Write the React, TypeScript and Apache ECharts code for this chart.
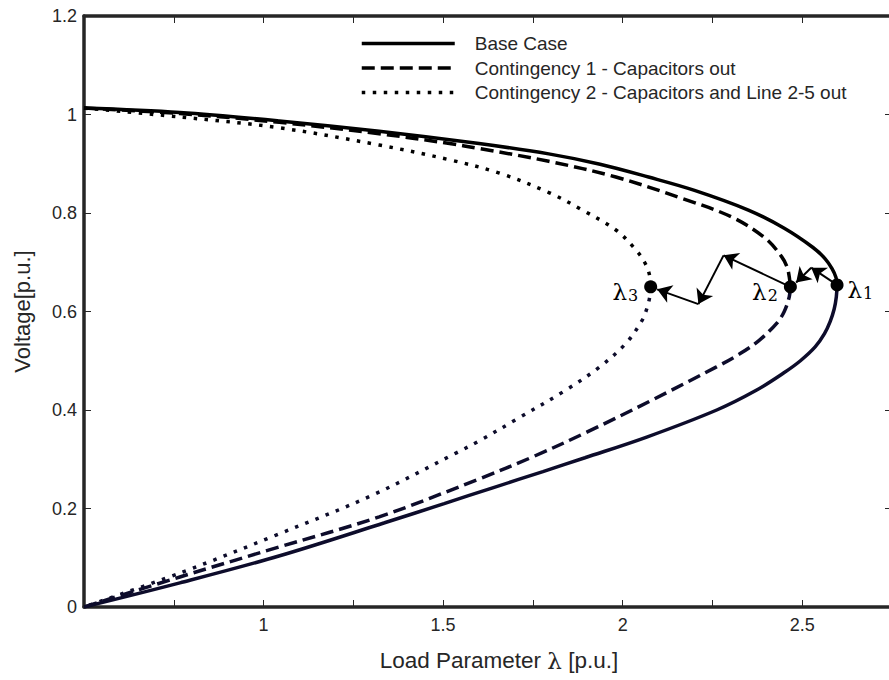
import React, { useEffect, useRef } from "react";
import * as echarts from "echarts";

// Load parameter λ [p.u.] vs Voltage [p.u.]
const baseUpper: [number, number][] = [
  [0.5, 1.013], [0.767, 1.004], [1.044, 0.987], [1.322, 0.966], [1.6, 0.941], [1.794, 0.92],
  [1.937, 0.899], [2.072, 0.873], [2.2, 0.846], [2.35, 0.806], [2.45, 0.769], [2.53, 0.73],
  [2.564, 0.707], [2.583, 0.687], [2.594, 0.669], [2.597, 0.654],
];
const baseLower: [number, number][] = [
  [2.597, 0.654], [2.595, 0.63], [2.589, 0.605], [2.578, 0.58], [2.562, 0.555], [2.536, 0.528],
  [2.495, 0.5], [2.448, 0.475], [2.372, 0.44], [2.262, 0.4], [2.067, 0.345], [1.895, 0.303],
  [1.778, 0.275], [1.638, 0.242], [1.503, 0.21], [1.337, 0.171], [1.045, 0.104], [0.767, 0.049],
  [0.5, 0],
];
const cont1Upper: [number, number][] = [
  [0.5, 1.013], [0.767, 1.002], [1.044, 0.984], [1.322, 0.961], [1.518, 0.941], [1.6, 0.931],
  [1.794, 0.905], [1.981, 0.873], [2.164, 0.83], [2.303, 0.792], [2.397, 0.749], [2.443, 0.711],
  [2.458, 0.69], [2.464, 0.67], [2.467, 0.65],
];
const cont1Lower: [number, number][] = [
  [2.467, 0.65], [2.464, 0.63], [2.45, 0.6], [2.43, 0.577], [2.381, 0.542], [2.326, 0.514],
  [2.26, 0.487], [2.076, 0.418], [1.9, 0.355], [1.75, 0.305], [1.6, 0.26], [1.322, 0.183],
  [1.044, 0.122], [0.767, 0.061], [0.5, 0],
];
const cont2Upper: [number, number][] = [
  [0.5, 1.013], [0.767, 0.995], [1.044, 0.973], [1.322, 0.938], [1.518, 0.908], [1.657, 0.881],
  [1.796, 0.841], [1.888, 0.806], [1.982, 0.765], [2.037, 0.725], [2.061, 0.7], [2.0745, 0.675],
  [2.078, 0.65],
];
const cont2Lower: [number, number][] = [
  [2.078, 0.65], [2.075, 0.628], [2.066, 0.603], [2.055, 0.583], [2.01, 0.536], [1.935, 0.487],
  [1.843, 0.441], [1.704, 0.381], [1.6, 0.337], [1.537, 0.313], [1.303, 0.227], [1.035, 0.146],
  [0.771, 0.07], [0.5, 0],
];

const seriesNames = [
  "Base Case",
  "Contingency 1 - Capacitors out",
  "Contingency 2 - Capacitors and Line 2-5 out",
];

// Critical (nose) points λ1, λ2, λ3
const criticalPoints: { sub: string; value: [number, number]; side: "left" | "right" }[] = [
  { sub: "1", value: [2.597, 0.654], side: "right" },
  { sub: "2", value: [2.467, 0.65], side: "left" },
  { sub: "3", value: [2.078, 0.65], side: "left" },
];

// Zig-zag arrows between the critical points
const arrowSegments: [number, number][][] = [
  [[2.597, 0.654], [2.525, 0.689]],
  [[2.525, 0.689], [2.483, 0.659]],
  [[2.467, 0.65], [2.281, 0.714]],
  [[2.281, 0.714], [2.211, 0.615]],
  [[2.211, 0.615], [2.096, 0.645]],
];

const xTicks = { min: 0.5, max: 2.75, interval: 0.25 };
const yTicks = { min: 0, max: 1.2, interval: 0.2 };

const AXIS = "#262626";
const SANS = "Liberation Sans, Arial, Helvetica, sans-serif";
const SERIF = "DejaVu Serif, Liberation Serif, serif";
const UPPER = "#000000";
const LOWER = "#0d0c2b";

const dashTypes: any[] = ["solid", [13, 6], [3.5, 7.5]];

export default function App() {
  const ref = useRef<HTMLDivElement>(null);
  useEffect(() => {
    document.body.style.margin = "0";
    document.body.style.overflow = "hidden";
    const chart = echarts.init(ref.current!, null, { renderer: "svg" });
    const axisCommon = {
      type: "value" as const,
      axisLine: { show: true, onZero: false, lineStyle: { color: AXIS, width: 3.5 } },
      axisTick: { show: true, inside: true, length: 7, lineStyle: { color: AXIS, width: 1 } },
      splitLine: { show: false },
    };
    const curves = [
      [baseUpper, baseLower],
      [cont1Upper, cont1Lower],
      [cont2Upper, cont2Lower],
    ];
    const lineSeries: any[] = [];
    curves.forEach((pair, i) => {
      pair.forEach((data, j) => {
        const color = j === 0 ? UPPER : LOWER;
        lineSeries.push({
          type: "line",
          name: seriesNames[i],
          data,
          smooth: 0.35,
          symbol: "none",
          showSymbol: false,
          color,
          lineStyle: { color, width: 3.5, type: dashTypes[i], cap: "butt" },
          z: 3,
        });
      });
    });
    chart.setOption({
      animation: false,
      backgroundColor: "#ffffff",
      grid: { left: 84, right: 1, top: 16, bottom: 73 },
      legend: {
        data: seriesNames,
        orient: "vertical",
        left: 355,
        top: 29,
        itemWidth: 93,
        itemHeight: 14,
        itemGap: 5.5,
        lineStyle: { width: 3.5 },
        itemStyle: { opacity: 0, borderWidth: 0 },
        textStyle: { color: AXIS, fontSize: 19, fontFamily: SANS, padding: [0, 0, 0, 15] },
        selectedMode: false,
      },
      xAxis: [
        {
          ...axisCommon,
          ...xTicks,
          position: "bottom",
          axisLabel: {
            color: AXIS,
            fontSize: 18,
            fontFamily: SANS,
            margin: 9,
            formatter: (v: number) => {
              const d = v * 2;
              return Math.abs(d - Math.round(d)) < 1e-6 && v > 0.75 ? String(Math.round(v * 100) / 100) : "";
            },
          },
          name: "{a|Load Parameter }{l|λ}{a| [p.u.]}",
          nameLocation: "middle",
          nameGap: 42,
          nameTextStyle: {
            padding: [0, 0, 0, 22],
            rich: {
              a: { fontSize: 22.5, fontFamily: SANS, color: AXIS },
              l: { fontSize: 23, fontFamily: SERIF, color: AXIS },
            },
          },
        },
        {
          ...axisCommon,
          ...xTicks,
          position: "top",
          axisLabel: { show: false },
        },
      ],
      yAxis: [
        {
          ...axisCommon,
          ...yTicks,
          position: "left",
          axisLabel: {
            color: AXIS,
            fontSize: 18,
            fontFamily: SANS,
            margin: 7,
            formatter: (v: number) => String(Math.round(v * 10) / 10),
          },
          name: "Voltage[p.u.]",
          nameLocation: "middle",
          nameGap: 51,
          nameTextStyle: { fontSize: 22, fontFamily: SANS, color: AXIS },
        },
        {
          ...axisCommon,
          ...yTicks,
          position: "right",
          axisLabel: { show: false },
        },
      ],
      series: [
        ...lineSeries,
        {
          type: "lines",
          coordinateSystem: "cartesian2d",
          xAxisIndex: 0,
          yAxisIndex: 0,
          symbol: ["none", "arrow"],
          symbolSize: 14,
          lineStyle: { color: "#000", width: 2, opacity: 1 },
          data: arrowSegments.map((coords) => ({ coords })),
          z: 5,
        },
        {
          type: "scatter",
          name: "critical",
          symbolSize: 13,
          itemStyle: { color: "#000", opacity: 1 },
          z: 6,
          data: criticalPoints.map((p) => ({
            value: p.value,
            label: {
              show: true,
              position: p.side,
              distance: p.side === "right" ? 4 : 6,
              offset: [0, 5],
              formatter: `{l|λ}{s|${p.sub}}`,
              rich: {
                l: { fontSize: 23, fontFamily: SERIF, color: "#000", verticalAlign: "bottom" },
                s: { fontSize: 16, fontFamily: SERIF, color: "#000", verticalAlign: "bottom", padding: [0, 0, 0, 1] },
              },
            },
          })),
        },
      ],
    });
    return () => chart.dispose();
  }, []);
  return (
    <div style={{ width: 889, height: 680, overflow: "hidden", position: "relative" }}>
      <div ref={ref} style={{ width: 895, height: 680 }} />
    </div>
  );
}
